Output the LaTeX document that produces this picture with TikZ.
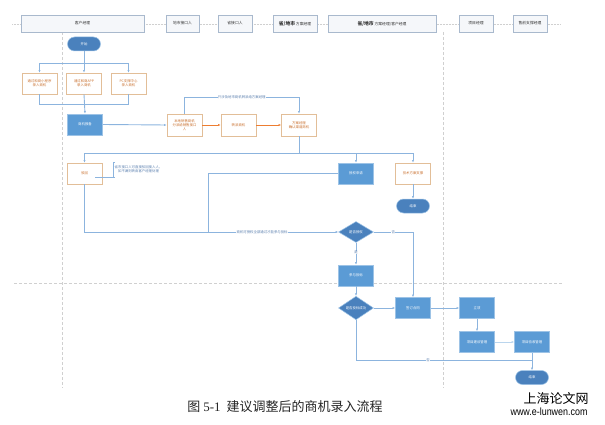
\documentclass[tikz,border=0pt]{standalone}
\usepackage{fontspec}
\setmainfont{Liberation Serif}
\newfontfamily\cjk{Noto Sans CJK SC}
\newfontfamily\wmfont{Liberation Sans}
\usetikzlibrary{shapes.geometric,shapes.misc,arrows.meta}
\definecolor{bfill}{HTML}{5B9BD5}
\definecolor{bdraw}{HTML}{9DC3E6}
\definecolor{tfill}{HTML}{4A81BD}
\definecolor{ofill}{HTML}{FFFFFF}
\definecolor{odraw}{HTML}{E2BE98}
\definecolor{otext}{HTML}{C9702E}
\definecolor{oline}{HTML}{ED7D31}
\definecolor{lcol}{HTML}{8CB4DE}
\definecolor{hdraw}{HTML}{A9B9CD}
\definecolor{hfill}{HTML}{F5F7FA}
\definecolor{gridc}{HTML}{D0D0D0}
\definecolor{ltext}{HTML}{5A7FAE}
\begin{document}
\begin{tikzpicture}[x=1pt,y=-1pt,
  every node/.style={font=\cjk\fontsize{3.4}{4.2}\selectfont, align=center, inner sep=0.5pt},
  bluebox/.style={rectangle, fill=bfill, draw=bdraw, line width=0.6pt, text=white, minimum width=35pt, minimum height=21pt},
  orbox/.style={rectangle, fill=ofill, draw=odraw, line width=0.7pt, text=otext, minimum width=35pt, minimum height=21pt},
  term/.style={rounded rectangle, fill=tfill, draw=bdraw, line width=0.5pt, text=white, minimum width=34pt, minimum height=14pt},
  dia/.style={diamond, fill=tfill, draw=bdraw, line width=0.5pt, text=white, minimum width=35pt, minimum height=21pt, inner sep=0pt},
  hdr/.style={rectangle, fill=hfill, draw=hdraw, line width=0.6pt, text=black!80, minimum height=17pt, font=\cjk\fontsize{3.8}{4.5}\selectfont},
  conn/.style={draw=lcol, line width=0.9pt},
  arr/.style={conn, -{Latex[length=2.6pt,width=2.2pt]}},
  oarr/.style={draw=oline, line width=0.9pt, -{Latex[length=2.6pt,width=2.2pt]}},
  lane/.style={draw=gridc, line width=0.6pt, dashed, dash pattern=on 3pt off 2pt},
  lbl/.style={text=ltext, fill=white, inner sep=0.3pt}
]
\useasboundingbox (0,0) rectangle (605,425);
% lanes
\draw[draw=gridc, line width=0.5pt, densely dotted] (12,24) -- (560,24);
\draw[lane] (62.5,32) -- (62.5,388);
\draw[lane] (443,32) -- (443,388);
\draw[lane] (14,283) -- (562,283);
% headers
\node[hdr, minimum width=123pt] (h1) at (82.5,23.5) {客户经理};
\node[hdr, minimum width=33pt] (h2) at (182.5,23.5) {地市接口人};
\node[hdr, minimum width=34pt] (h3) at (235,23.5) {省接口人};
\node[hdr, minimum width=44pt] (h4) at (295,23.5) {{\fontsize{4.8}{5}\selectfont\bfseries 省/地市} 方案经理};
\node[hdr, minimum width=108pt] (h5) at (382,23.5) {{\fontsize{4.8}{5}\selectfont\bfseries 省/地市} 方案经理/客户经理};
\node[hdr, minimum width=34pt] (h6) at (476,23.5) {项目经理};
\node[hdr, minimum width=34pt] (h7) at (530,23.5) {售前支撑经理};
% nodes
\node[term] (st) at (84,44) {开始};
\node[orbox] (in1) at (39.5,83.5) {通过和商小程序\\录入商机};
\node[orbox] (in2) at (84,83.5) {通过和商APP\\录入商机};
\node[orbox] (in3) at (128.5,83.5) {PC支撑中心\\录入商机};
\node[bluebox] (bb) at (85,124.5) {商机报备};
\node[orbox, minimum height=22pt] (fp) at (184.5,125) {本地销售商机\\分派给销售接口\\人};
\node[orbox, minimum height=22pt] (zp) at (238.5,125) {转派商机};
\node[orbox, minimum height=22pt] (fa) at (299,125) {方案经理\\确认渠道商机};
\node[orbox] (bh) at (84.5,173.5) {驳回};
\node[bluebox] (sq) at (356,173.5) {授权申请};
\node[orbox] (js) at (413,173.5) {技术方案支撑};
\node[term] (e1) at (413,206) {结束};
\node[dia] (d1) at (356,232) {是否授权};
\node[bluebox] (tb) at (356,275.5) {参与投标};
\node[dia] (d2) at (356,308) {是否投标成功};
\node[bluebox] (ht) at (413,308) {签订合同};
\node[bluebox] (lx) at (477,308) {立项};
\node[bluebox] (jg) at (477,342) {项目建设管理};
\node[bluebox] (ys) at (532,342) {项目验收管理};
\node[term] (e2) at (532,377.5) {结束};
% note
\node[anchor=west, text=ltext] (nt) at (114,169.5) {省市接口人可直接驳回接入人，\\如不满则转由客户经理处理};
\coordinate (nb1) at (113,162);
\coordinate (nb2) at (113,177);
\draw[conn, line width=0.5pt] ([xshift=2pt]nb1) -- (nb1) -- (nb2) -- ([xshift=2pt]nb2);
\draw[conn, line width=0.5pt] (nb2) -- (95,177);
% connectors
\coordinate (s0) at (84,63);
\draw[conn] (st.south) -- (s0);
\draw[arr] (s0) -| (in1.north);
\draw[arr] (s0) -- (in2.north);
\draw[arr] (s0) -| (in3.north);
\coordinate (m0) at (84.5,104);
\draw[conn] (in1.south) |- (m0);
\draw[conn] (in3.south) |- (m0);
\draw[arr] (in2.south) -- (bb.north);
\draw[arr] (bb.east) -- (fp.west);
\draw[oarr] (fp.east) -- (zp.west);
\draw[oarr] (zp.east) -- (fa.west);
\coordinate (tp) at (184.5,97);
\draw[arr] (fp.north) -- (tp) -| (fa.north) node[pos=0.25, lbl] {只涉及地市商机转派给方案经理};
\coordinate (dl) at (299,153);
\draw[conn] (fa.south) -- (dl);
\draw[arr] (dl) -| (bh.north);
\draw[arr] (dl) -| (sq.north);
\draw[arr] (dl) -| (js.north);
\draw[arr] (js.south) -- (e1.north);
\coordinate (bl) at (84.5,232);
\draw[arr] (bh.south) -- (bl) -- (d1.west) node[pos=0.7, lbl] {商机可授权全部通过才能参与投标};
\coordinate (sl) at (208,173.5);
\draw[conn] (sq.west) -- (sl) -- (208,232);
\coordinate (nr) at (413,232);
\draw[arr] (d1.east) -- (nr) node[pos=0.5, lbl] {否} -- (ht.north);
\draw[arr] (d1.south) -- (tb.north) node[pos=0.45, lbl] {是};
\draw[arr] (tb.south) -- (d2.north);
\draw[arr] (d2.east) -- (ht.west);
\draw[arr] (ht.east) -- (lx.west);
\draw[arr] (lx.south) -- (jg.north);
\draw[arr, draw=bdraw!70] (jg.east) -- (ys.west);
\draw[arr] (ys.south) -- (e2.north);
\coordinate (bn) at (356,360);
\draw[conn] (d2.south) -- (bn) -- (532,360) node[pos=0.41, lbl] {否};
% caption
\node[font=\cjk\fontsize{13}{15}\selectfont, text=black!85] (cap) at (285,407) {图 {\rmfamily 5-1}\hspace{6pt}建议调整后的商机录入流程};
\node[font=\cjk\fontsize{13}{14}\selectfont, text=black] (wm1) at (556,398) {上海论文网};
\node[font=\wmfont\fontsize{10.5}{12}\selectfont, text=black, xscale=0.85] (wm2) at (549,412) {www.e-lunwen.com};
\end{tikzpicture}
\end{document}
